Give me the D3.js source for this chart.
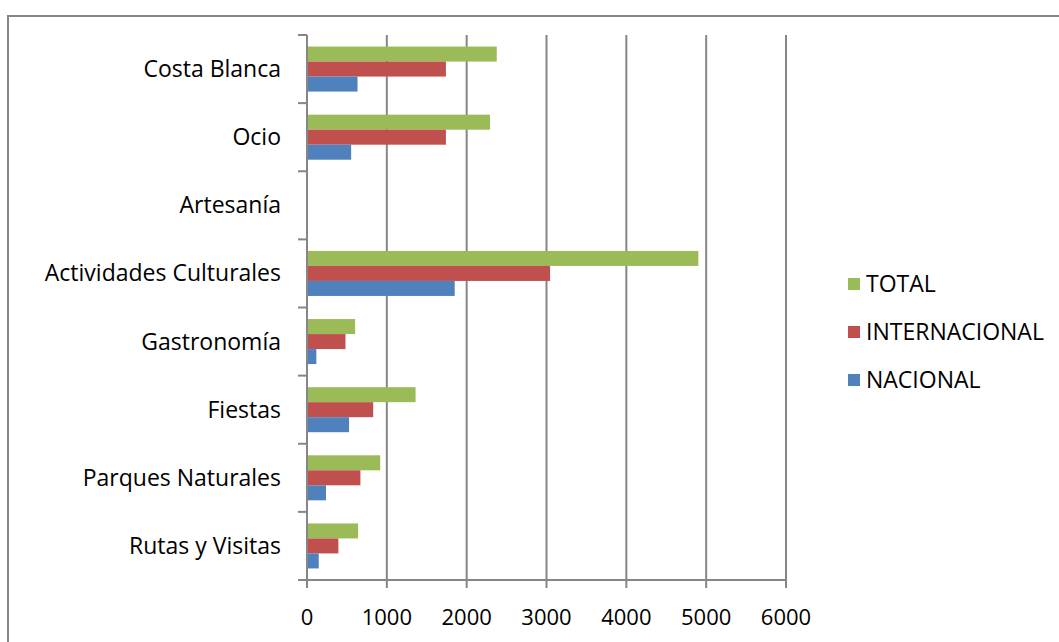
<!DOCTYPE html>
<html>
<head>
<meta charset="utf-8">
<script src="https://cdn.jsdelivr.net/npm/d3@7"></script>
<style>
  body { margin: 0; background: #fff; }
  svg text { font-family: "Open Sans", Lato, "Liberation Sans", sans-serif; fill: #000; }
</style>
</head>
<body>
<div id="chart"></div>
<script>
// categories from top to bottom
const categories = ["Costa Blanca", "Ocio", "Artesanía", "Actividades Culturales",
    "Gastronomía", "Fiestas", "Parques Naturales", "Rutas y Visitas"];
const seriesNames = ["TOTAL", "INTERNACIONAL", "NACIONAL"];
const seriesColors = ["#9BBB59", "#C0504D", "#4F81BD"];
const totalValues = [2377, 2293, 10, 4902, 603, 1360, 917, 640];
const internacionalValues = [1740, 1740, 5, 3045, 482, 829, 669, 393];
const nacionalValues = [633, 553, 3, 1850, 117, 527, 238, 147];
const xTicks = [0, 1000, 2000, 3000, 4000, 5000, 6000];

const seriesValues = [totalValues, internacionalValues, nacionalValues];
const W = 1059, H = 642;

const svg = d3.select("#chart").append("svg")
    .attr("width", W).attr("height", H);

// outer chart border
svg.append("rect")
    .attr("x", 8).attr("y", 16)
    .attr("width", W + 10).attr("height", H + 10)
    .attr("fill", "none").attr("stroke", "#868686").attr("stroke-width", 2);

const x = d3.scaleLinear().domain([0, 6000]).range([307, 786]);
const y = d3.scaleBand().domain(categories).range([35, 580]);
const inner = d3.scaleBand().domain(seriesNames).range([0, y.bandwidth()]).paddingOuter(0.77);

// gridlines
svg.append("g").selectAll("line")
    .data(xTicks.slice(1))
    .enter().append("line")
    .attr("x1", d => x(d)).attr("x2", d => x(d))
    .attr("y1", 35).attr("y2", 580)
    .attr("stroke", "#868686").attr("stroke-width", 2);

// bars
categories.forEach(function (cat, i) {
    seriesNames.forEach(function (s, j) {
        svg.append("rect")
            .attr("x", x(0))
            .attr("y", y(cat) + inner(s))
            .attr("width", x(seriesValues[j][i]) - x(0))
            .attr("height", inner.bandwidth())
            .attr("fill", seriesColors[j]);
    });
});

// y axis
svg.append("line")
    .attr("x1", x(0)).attr("x2", x(0)).attr("y1", 35).attr("y2", 580)
    .attr("stroke", "#868686").attr("stroke-width", 2);
const bounds = categories.map(c => y(c)).concat([580]);
svg.append("g").selectAll("line")
    .data(bounds)
    .enter().append("line")
    .attr("x1", x(0) - 9).attr("x2", x(0))
    .attr("y1", d => d).attr("y2", d => d)
    .attr("stroke", "#868686").attr("stroke-width", 2);
svg.append("g").selectAll("text")
    .data(categories)
    .enter().append("text")
    .attr("x", 281)
    .attr("y", d => y(d) + y.bandwidth() / 2)
    .attr("dy", "0.35em")
    .attr("text-anchor", "end")
    .attr("font-size", 23)
    .text(d => d);

// x axis
svg.append("line")
    .attr("x1", x(0)).attr("x2", x(6000)).attr("y1", 580).attr("y2", 580)
    .attr("stroke", "#868686").attr("stroke-width", 2);
svg.append("g").selectAll("line")
    .data(xTicks)
    .enter().append("line")
    .attr("x1", d => x(d)).attr("x2", d => x(d))
    .attr("y1", 580).attr("y2", 588)
    .attr("stroke", "#868686").attr("stroke-width", 2);
svg.append("g").selectAll("text")
    .data(xTicks)
    .enter().append("text")
    .attr("x", d => x(d))
    .attr("y", 617)
    .attr("dy", "0.35em")
    .attr("text-anchor", "middle")
    .attr("font-size", 22)
    .text(d => d);

// legend
const legend = svg.append("g").selectAll("g")
    .data(seriesNames)
    .enter().append("g")
    .attr("transform", (d, i) => "translate(848," + (284 + i * 48) + ")");
legend.append("rect")
    .attr("x", 0).attr("y", -6)
    .attr("width", 12).attr("height", 12)
    .attr("fill", (d, i) => seriesColors[i]);
legend.append("text")
    .attr("x", 18).attr("y", 0)
    .attr("dy", "0.35em")
    .attr("font-size", 23)
    .text(d => d);
</script>
</body>
</html>
